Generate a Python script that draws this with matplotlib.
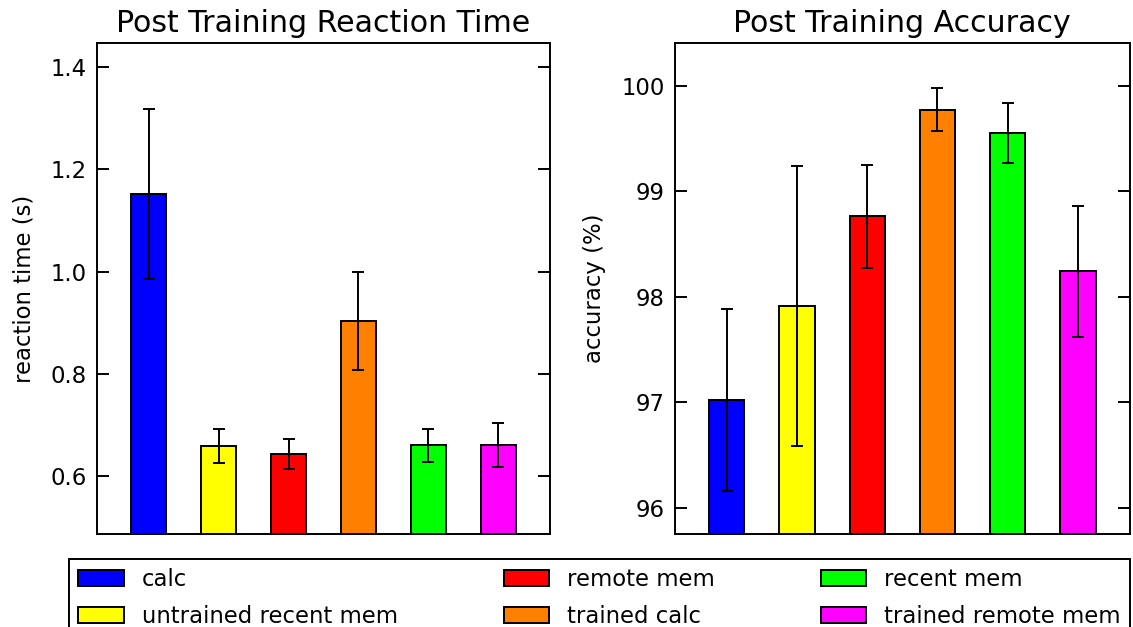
import matplotlib
matplotlib.use("Agg")
import matplotlib.pyplot as plt
import numpy as np

conditions = ["calc", "untrained recent mem", "remote mem",
              "trained calc", "recent mem", "trained remote mem"]
bar_colors = ["#0000ff", "#ffff00", "#ff0000", "#ff8000", "#00ff00", "#ff00ff"]

# reaction time (s), mean and error
rt_mean = [1.151, 0.659, 0.643, 0.903, 0.660, 0.660]
rt_err = [0.166, 0.034, 0.029, 0.096, 0.032, 0.043]

# accuracy (%), mean and error
acc_mean = [97.02, 97.91, 98.76, 99.77, 99.55, 98.24]
acc_err = [0.86, 1.33, 0.49, 0.205, 0.285, 0.62]

W, H = 1133, 627
fig = plt.figure(figsize=(W / 100, H / 100), dpi=100)

fs = 16.4
lw = 1.4
x = np.arange(len(conditions))


def panel(rect, means, errs, title, ylabel, ylim, yticks, yticklabels):
    ax = fig.add_axes(rect)
    bars = ax.bar(x, means, width=0.5, color=bar_colors, edgecolor="black",
                  linewidth=lw, align="center", zorder=2)
    ax.errorbar(x, means, yerr=errs, fmt="none", ecolor="black",
                elinewidth=lw, capsize=4, capthick=lw, zorder=3)
    ax.set_xlim(-0.74, 5.74)
    ax.set_ylim(*ylim)
    ax.set_xticks([])
    ax.set_yticks(yticks)
    ax.set_yticklabels(yticklabels)
    ax.tick_params(axis="y", which="both", direction="in", left=True,
                   right=True, length=8.4, width=lw, labelsize=fs, pad=7)
    for s in ax.spines.values():
        s.set_linewidth(lw)
    ax.set_title(title, fontsize=21.6, pad=8)
    ax.set_ylabel(ylabel, fontsize=fs)
    return ax, bars


top = 43.3
bot = 534.0
ax1, bars = panel([96.7 / W, (H - bot) / H, (550.3 - 96.7) / W, (bot - top) / H],
                  rt_mean, rt_err, "Post Training Reaction Time",
                  "reaction time (s)", (0.487, 1.446),
                  [0.6, 0.8, 1.0, 1.2, 1.4], ["0.6", "0.8", "1.0", "1.2", "1.4"])
ax2, _ = panel([674.7 / W, (H - bot) / H, (1130 - 674.7) / W, (bot - top) / H],
               acc_mean, acc_err, "Post Training Accuracy",
               "accuracy (%)", (95.75, 100.4),
               [96, 97, 98, 99, 100], ["96", "97", "98", "99", "100"])
ax1.yaxis.set_label_coords(-0.135, 0.5)
ax2.yaxis.set_label_coords(-0.15, 0.5)

leg = fig.legend(bars, conditions, ncol=3, mode="expand", loc="upper left",
                 bbox_to_anchor=(69.3 / W, (H - 559) / H, (1130 - 69.3) / W, 0),
                 fontsize=fs, fancybox=False, edgecolor="black",
                 framealpha=1, borderpad=0.4, labelspacing=0.6,
                 handlelength=2.0, handleheight=0.72, handletextpad=0.8,
                 borderaxespad=0)
leg.get_frame().set_linewidth(lw)

fig.savefig("out.png", dpi=100)
